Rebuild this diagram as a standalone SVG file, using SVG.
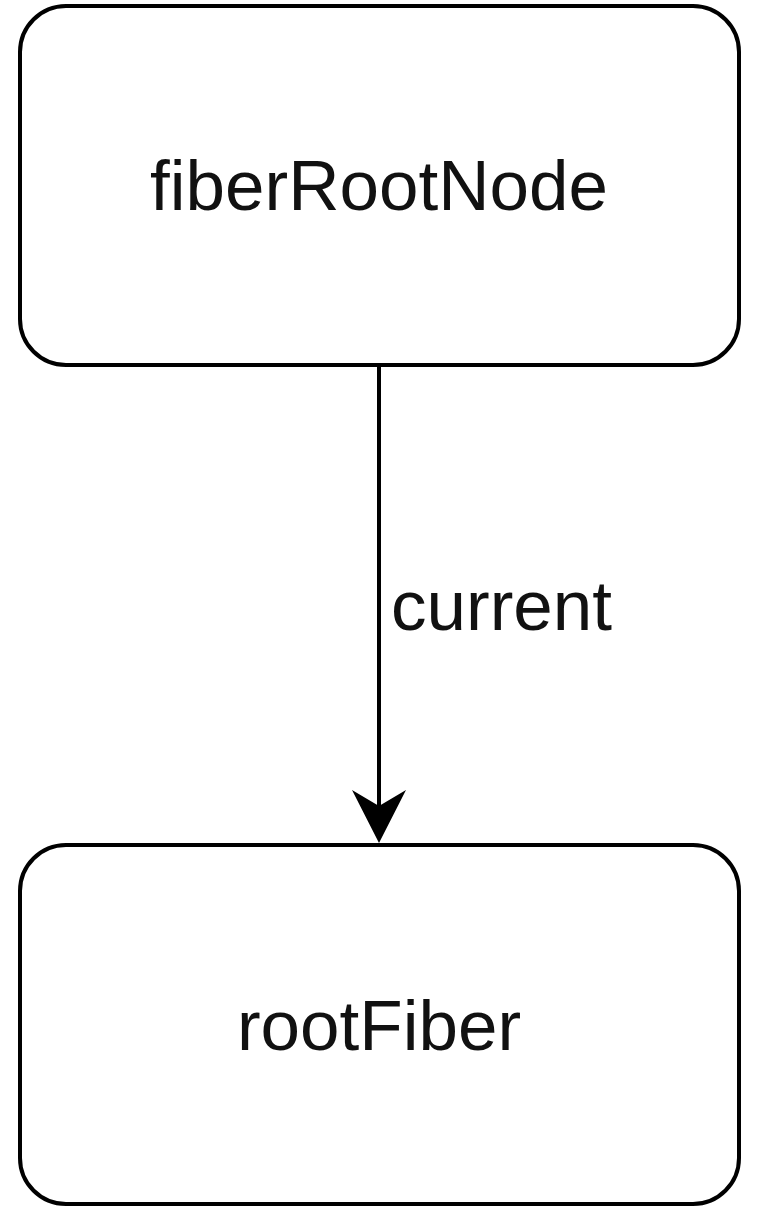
<svg xmlns="http://www.w3.org/2000/svg" width="760" height="1218" viewBox="0 0 760 1218">
<defs>
<style>
.box{fill:#ffffff;stroke:#000000;stroke-width:4}
.lbl{font-family:"Liberation Sans",Arial,sans-serif;font-size:71px;fill:#111111}
.edge{stroke:#000000;stroke-width:4;fill:none}
</style>
</defs>
<rect width="760" height="1218" fill="#ffffff"/>
<g id="fiberRootNode">
<rect class="box" x="20" y="6" width="719" height="359" rx="46" ry="46"/>
<text class="lbl" x="379" y="210" text-anchor="middle">fiberRootNode</text>
</g>
<g id="rootFiber">
<rect class="box" x="20" y="845" width="719" height="359" rx="46" ry="46"/>
<text class="lbl" x="379" y="1050" text-anchor="middle">rootFiber</text>
</g>
<g id="connectors">
<line class="edge" x1="379" y1="365" x2="379" y2="810"/>
<path d="M352,790 L379,806 L406,790 L379,843 Z" fill="#000000"/>
<text class="lbl" x="391" y="630">current</text>
</g>
</svg>
